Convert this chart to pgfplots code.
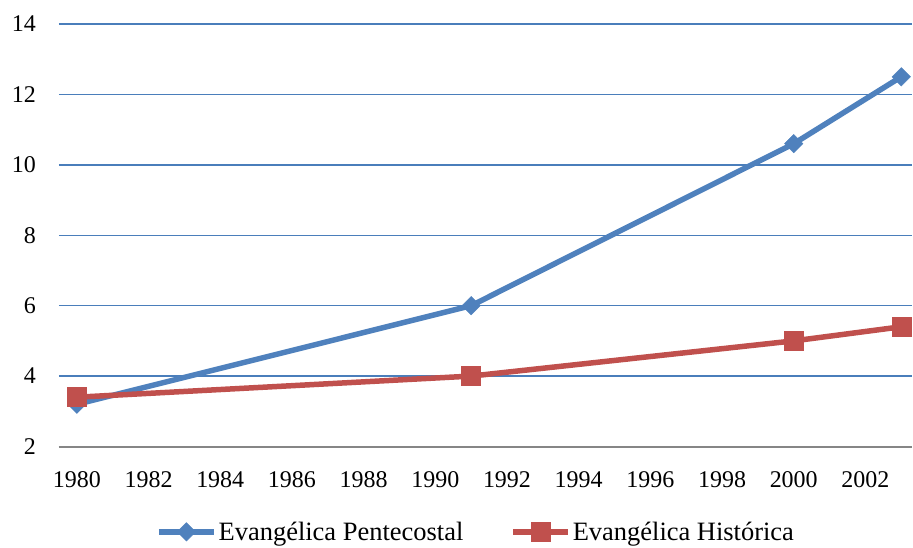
\documentclass[border=0pt]{standalone}
\usepackage{fontspec}
\setmainfont{Liberation Serif}
\usepackage{pgfplots}
\pgfplotsset{compat=1.18}
\definecolor{exblue}{HTML}{4F81BD}
\definecolor{exred}{HTML}{C0504D}
\definecolor{gridblue}{HTML}{4A7EBB}
\definecolor{axgray}{HTML}{868686}
\begin{document}
\begin{tikzpicture}
\begin{axis}[name=ax, scale only axis, width=854pt, height=423pt,
  xmin=1979.5, xmax=2003.3, ymin=2, ymax=14,
  xtick={1980,1982,...,2002}, ytick={2,4,...,14},
  axis x line=bottom, axis y line=left,
  x axis line style={-, draw=axgray, line width=2pt},
  y axis line style={draw=none},
  major tick length=0pt,
  ymajorgrids, major grid style={gridblue, line width=1.4pt},
  /pgf/number format/assume math mode=true,
  /pgf/number format/1000 sep={},
  tick label style={font=\fontsize{24}{28}\selectfont, inner sep=0pt},
  xticklabel style={anchor=north, yshift=-25pt},
  yticklabel style={anchor=east, xshift=-23pt},
  legend style={draw=none, at={(axis description cs:0.489,-0.202)}, anchor=center,
    legend columns=2, font=\fontsize{26.5}{30}\selectfont, inner sep=1pt,
    /tikz/every even column/.append style={column sep=45pt}},
  legend cell align=left,
  legend image code/.code={\draw[mark repeat=2,mark phase=2,#1] plot coordinates {(0pt,0pt) (27.5pt,0pt) (55pt,0pt)};},
]
\addplot[exblue, line width=5.5pt, mark=square*, mark size=6.5pt, mark options={rotate=45, line width=0.5pt, fill=exblue}]
  coordinates {(1980,3.2) (1991,6.0) (2000,10.6) (2003,12.5)};
\addlegendentry{Evangélica Pentecostal}
\addplot[exred, line width=5.5pt, mark=square*, mark size=9.5pt, mark options={line width=0.5pt, fill=exred}]
  coordinates {(1980,3.4) (1991,4.0) (2000,5.0) (2003,5.4)};
\addlegendentry{Evangélica Histórica}
\end{axis}
\path ([xshift=-59pt,yshift=-101pt]ax.south west) rectangle ([yshift=24pt]ax.north east);
\end{tikzpicture}
\end{document}
